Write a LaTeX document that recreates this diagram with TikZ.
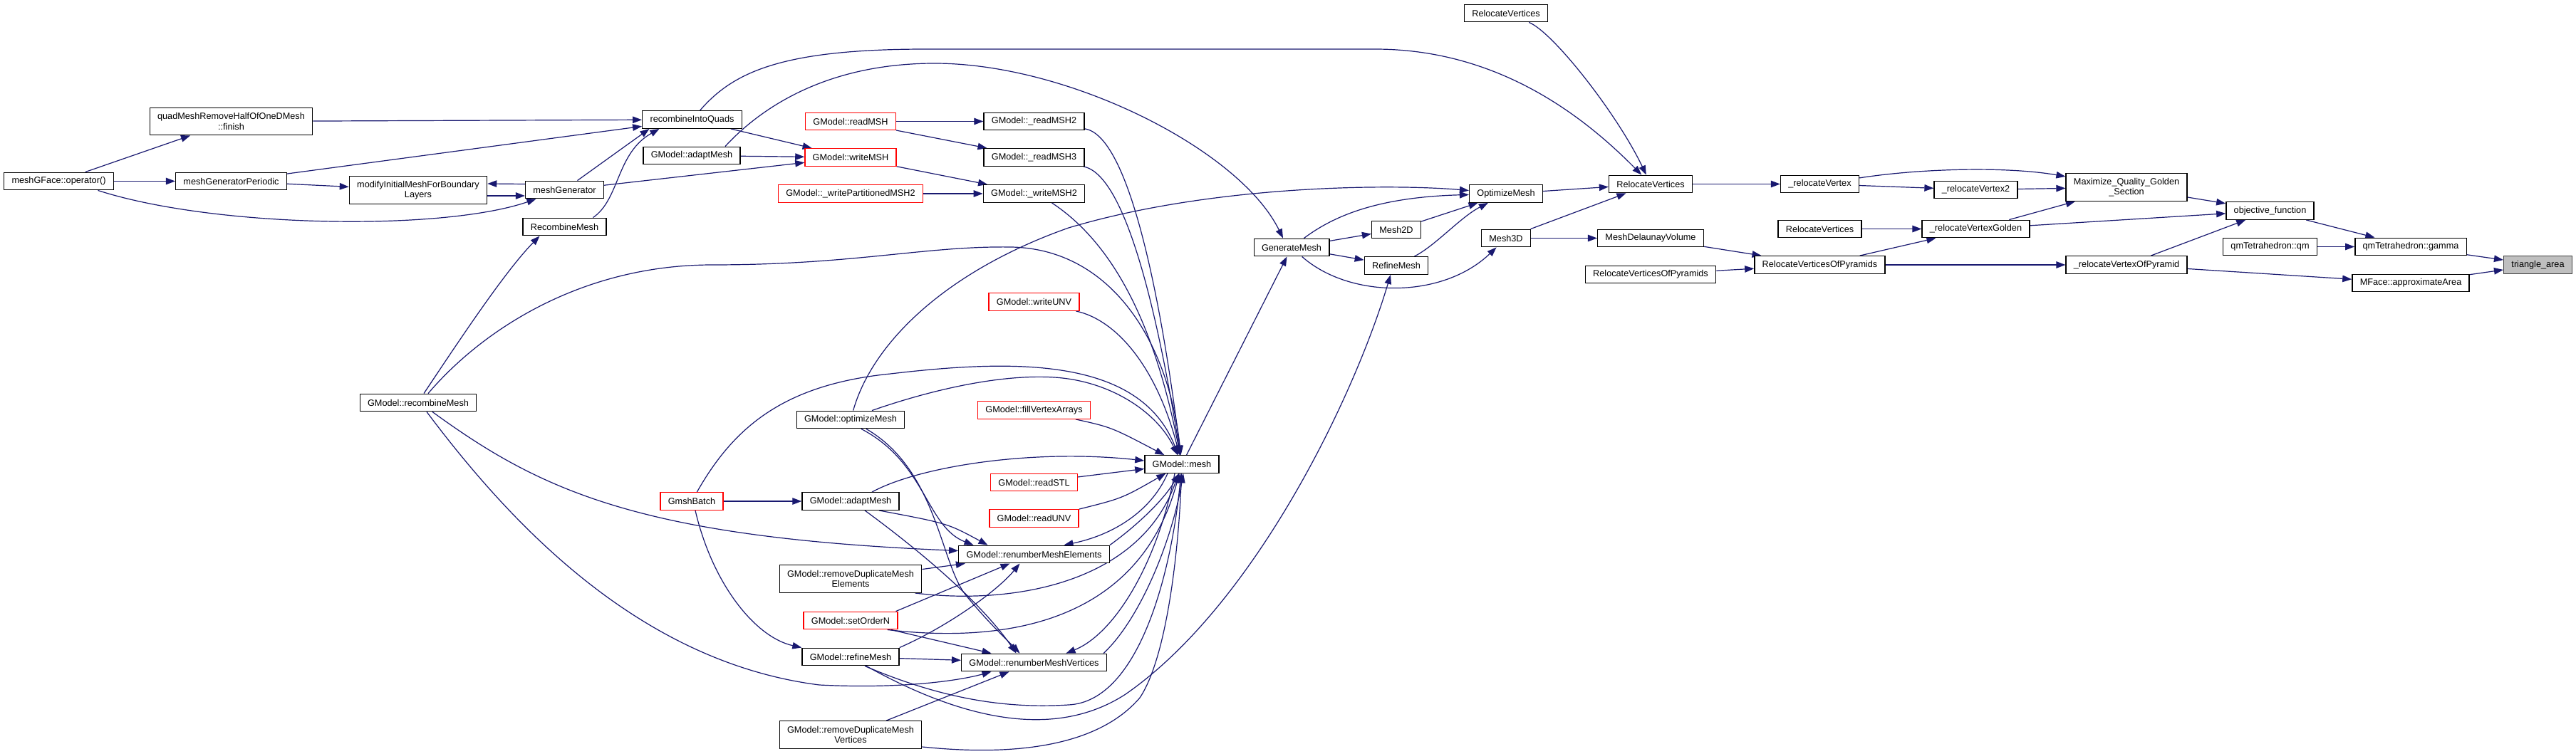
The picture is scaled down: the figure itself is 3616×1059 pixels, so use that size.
\documentclass[tikz,border=0pt]{standalone}
\usepackage{fontspec}
\setmainfont{Liberation Sans}
\usetikzlibrary{arrows.meta}
\definecolor{edgeblue}{HTML}{191970}
\definecolor{rootgray}{HTML}{BFBFBF}
\pgfdeclarelayer{background}
\pgfsetlayers{background,main}
\begin{document}
\begin{tikzpicture}[x=1pt,y=-1pt,
  nd/.style={draw=black, line width=1.4pt, fill=white, minimum height=24.5pt,
    inner xsep=10.8pt, inner ysep=0pt, align=center,
    font=\fontsize{12.7}{14.5}\selectfont},
  rd/.style={nd, draw=red},
  two/.style={minimum height=38.5pt},
  edg/.style={draw=edgeblue, line width=1.2pt, -{Triangle[length=13pt,width=9.5pt]}}
]
\path[use as bounding box] (0,0) rectangle (3616,1059);

% ---------- nodes ----------
\node[nd] (mgf) at (82.5,254.5) {meshGFace::operator()};
\node[nd,two] (qfin) at (324.5,170.5) {quadMeshRemoveHalfOfOneDMesh\\::finish};
\node[nd] (mgp) at (324.5,254.5) {meshGeneratorPeriodic};
\node[nd,two] (modi) at (587,267) {modifyInitialMeshForBoundary\\Layers};
\node[nd] (rcm) at (587,565.5) {GModel::recombineMesh};
\node[nd] (mgen) at (792.5,266.5) {meshGenerator};
\node[nd] (recM) at (792.5,318.5) {RecombineMesh};
\node[nd] (riq) at (971.5,168) {recombineIntoQuads};
\node[nd] (adaptT) at (971,218.5) {GModel::adaptMesh};
\node[rd] (gb) at (971,704) {GmshBatch};
\node[rd] (rmsh) at (1194,170.5) {GModel::readMSH};
\node[rd] (wmsh) at (1194,221) {GModel::writeMSH};
\node[rd] (wpart) at (1194,272) {GModel::\_writePartitionedMSH2};
\node[nd] (optMG) at (1194,589.5) {GModel::optimizeMesh};
\node[nd] (adaptL) at (1194,704) {GModel::adaptMesh};
\node[nd,two] (rdE) at (1194,813) {GModel::removeDuplicateMesh\\Elements};
\node[rd] (son) at (1194,871.5) {GModel::setOrderN};
\node[nd] (refG) at (1194,922.5) {GModel::refineMesh};
\node[nd,two] (rdV) at (1194,1032) {GModel::removeDuplicateMesh\\Vertices};
\node[nd] (rmsh2) at (1451.5,170.5) {GModel::\_readMSH2};
\node[nd] (rmsh3) at (1451.5,221) {GModel::\_readMSH3};
\node[nd] (wmsh2) at (1451.5,272) {GModel::\_writeMSH2};
\node[rd] (wunv) at (1451.5,424) {GModel::writeUNV};
\node[rd] (fva) at (1451.5,576) {GModel::fillVertexArrays};
\node[rd] (rstl) at (1451.5,677.5) {GModel::readSTL};
\node[rd] (runv) at (1451.5,728) {GModel::readUNV};
\node[nd] (renE) at (1451.5,778.5) {GModel::renumberMeshElements};
\node[nd] (renV) at (1451.5,930.5) {GModel::renumberMeshVertices};
\node[nd] (gmesh) at (1659,652) {GModel::mesh};
\node[nd] (genM) at (1813,347.5) {GenerateMesh};
\node[nd] (mesh2d) at (1960,322.5) {Mesh2D};
\node[nd] (refineM) at (1960,373) {RefineMesh};
\node[nd] (relocA) at (2114,18.5) {RelocateVertices};
\node[nd] (optM) at (2114,272) {OptimizeMesh};
\node[nd] (mesh3d) at (2114,334.5) {Mesh3D};
\node[nd] (relocB) at (2317,258.5) {RelocateVertices};
\node[nd] (delaunay) at (2317,334.5) {MeshDelaunayVolume};
\node[nd] (rvopL) at (2317,385.5) {RelocateVerticesOfPyramids};
\node[nd] (rv) at (2554.5,258.5) {\_relocateVertex};
\node[nd] (relocC) at (2554.5,321.5) {RelocateVertices};
\node[nd] (rvopR) at (2554.5,372) {RelocateVerticesOfPyramids};
\node[nd] (rv2) at (2773.5,266.5) {\_relocateVertex2};
\node[nd] (rvGold) at (2773.5,321.5) {\_relocateVertexGolden};
\node[nd,two] (maxq) at (2985,263) {Maximize\_Quality\_Golden\\\_Section};
\node[nd] (rvPyr) at (2985,372) {\_relocateVertexOfPyramid};
\node[nd] (objf) at (3186.5,296) {objective\_function};
\node[nd] (qm) at (3186.5,346.5) {qmTetrahedron::qm};
\node[nd] (gam) at (3384,346.5) {qmTetrahedron::gamma};
\node[nd] (approx) at (3384,397.5) {MFace::approximateArea};
\node[nd,fill=rootgray,draw=black!75] (tri) at (3562.5,372) {triangle\_area};

% ---------- edges ----------
\begin{pgfonlayer}{background}
\fill[white] (0,0) rectangle (3616,1059);

% right part
\draw[edg] (gam) -- (tri);
\draw[edg] (approx) -- (tri);
\draw[edg] (objf) -- (gam);
\draw[edg] (qm) -- (gam);
\draw[edg] (rvPyr) -- (approx);
\draw[edg] (maxq) -- (objf);
\draw[edg] (rvGold) -- (objf);
\draw[edg] (rvPyr) -- (objf);
\draw[edg] (rv) .. controls (2700,236) and (2820,234) .. (maxq);
\draw[edg] (rv2) -- (maxq);
\draw[edg] (rvGold) -- (maxq);
\draw[edg] (rv) -- (rv2);
\draw[edg] (relocC) -- (rvGold);
\draw[edg] (rvopR) -- (rvGold);
\draw[edg] (rvopR) -- (rvPyr);
\draw[edg] (relocB) -- (rv);
\draw[edg] (delaunay) -- (rvopR);
\draw[edg] (rvopL) -- (rvopR);
\draw[edg] (relocA) .. controls (2180,45) and (2270,160) .. (relocB);
\draw[edg] (optM) -- (relocB);
\draw[edg] (mesh3d) -- (relocB);
\draw[edg] (riq) .. controls (1030,100) and (1100,69) .. (1300,69) -- (1930,69) .. controls (2100,69) and (2220,160) .. (relocB);
\draw[edg] (mesh3d) -- (delaunay);
\draw[edg] (mesh2d) -- (optM);
\draw[edg] (refineM) .. controls (2015,345) and (2050,305) .. (optM);
\draw[edg] (genM) .. controls (1870,305) and (1930,277) .. (optM);
\draw[edg] (optMG) .. controls (1225,480) and (1330,380) .. (1500,320) .. controls (1700,260) and (1950,258) .. (optM);
\draw[edg] ([xshift=47pt]adaptT.north) .. controls (1060,160) and (1150,89) .. (1312,89) .. controls (1500,89) and (1740,210) .. ([xshift=-12pt]genM.north);
\draw[edg] (gmesh) -- (genM);
\draw[edg] ([xshift=22pt]refG.south) .. controls (1350,1010) and (1480,1040) .. (1580,975) .. controls (1760,850) and (1900,560) .. ([xshift=-8pt]refineM.south);
\draw[edg] (genM) -- (mesh2d);
\draw[edg] (genM) -- (refineM);
\draw[edg] (genM) .. controls (1895,420) and (2025,420) .. (mesh3d);

% left part
\draw[edg] (mgf) -- (qfin);
\draw[edg] (mgf) -- (mgp);
\draw[edg] ([xshift=55pt]mgf.south) .. controls (300,320) and (620,325) .. ([xshift=-40pt]mgen.south);
\draw[edg] (qfin) -- (riq);
\draw[edg] (mgp) -- (riq);
\draw[edg] (mgp) -- (modi);
\draw[edg] ([yshift=-8pt]modi.east) -- ([yshift=-8.5pt]mgen.west);
\draw[edg] ([yshift=8pt]mgen.west) -- ([yshift=9pt]modi.east);
\draw[edg] (mgen) -- ([xshift=-60pt]riq.south);
\draw[edg] ([xshift=40pt]recM.north) .. controls (870,280) and (865,215) .. ([xshift=-46pt]riq.south);
\draw[edg] (riq) -- (wmsh);
\draw[edg] (mgen) -- (wmsh);
\draw[edg] (adaptT) -- (wmsh);
\draw[edg] (rmsh) -- (rmsh2);
\draw[edg] (rmsh) -- (rmsh3);
\draw[edg] (wmsh) -- (wmsh2);
\draw[edg] (wpart) -- (wmsh2);

% into GModel::mesh
\draw[edg] (rmsh2) .. controls (1585,190) and (1630,420) .. (gmesh);
\draw[edg] (rmsh3) .. controls (1580,245) and (1625,440) .. (gmesh);
\draw[edg] ([xshift=25pt]wmsh2.south) .. controls (1560,340) and (1620,450) .. (gmesh);
\draw[edg] (wunv) .. controls (1570,450) and (1625,520) .. (gmesh);
\draw[edg] (fva) .. controls (1560,600) .. (gmesh);
\draw[edg] (rstl) -- (gmesh);
\draw[edg] (runv.north east) .. controls (1575,700) .. (gmesh);
\draw[edg] ([xshift=-20pt]gmesh.south) .. controls (1615,720) and (1560,752) .. ([xshift=42pt]renE.north);
\draw[edg] (renE.north east) .. controls (1600,735) and (1635,700) .. ([xshift=-4pt]gmesh.south);
\draw[edg] ([xshift=-10pt]gmesh.south) .. controls (1625,790) and (1565,890) .. ([xshift=45pt]renV.north);
\draw[edg] ([xshift=-5pt]renV.north east) .. controls (1600,870) and (1645,760) .. ([xshift=2pt]gmesh.south);
\draw[edg] (rdE) -- (renE);
\draw[edg] ([xshift=-10pt]rdE.south east) .. controls (1420,850) and (1600,820) .. (gmesh);
\draw[edg] ([xshift=-3pt]son.north east) -- ([xshift=-34pt]renE.south);
\draw[edg] ([xshift=-10pt]son.south east) -- ([xshift=-60pt]renV.north);
\draw[edg] ([xshift=-15pt]son.south east) .. controls (1420,905) and (1600,870) .. (gmesh);
\draw[edg] (refG.north east) .. controls (1330,880) and (1400,830) .. ([xshift=-20pt]renE.south);
\draw[edg] (refG) -- (renV);
\draw[edg] ([xshift=20pt]refG.south) .. controls (1330,985) and (1420,995) .. (1500,990) .. controls (1600,985) and (1645,800) .. (gmesh);
\draw[edg] (rdV) -- ([xshift=-35pt]renV.south);
\draw[edg] ([yshift=3pt]rdV.south east) .. controls (1420,1062) and (1540,1050) .. (1600,980) .. controls (1640,920) and (1655,760) .. (gmesh);
\draw[edg] (gb) -- (adaptL);
\draw[edg] ([xshift=5pt]gb.south) .. controls (1000,820) and (1060,895) .. (refG.north west);
\draw[edg] (gb) .. controls (1030,600) and (1100,540) .. (1250,525) .. controls (1420,505) and (1600,500) .. (gmesh);
\draw[edg] ([xshift=30pt]optMG.north) .. controls (1300,550) and (1400,525) .. (1480,530) .. controls (1560,535) and (1625,580) .. (gmesh);
\draw[edg] ([xshift=15pt]optMG.south) .. controls (1300,650) and (1300,740) .. ([xshift=-85pt]renE.north);
\draw[edg] ([xshift=22pt]optMG.south) .. controls (1315,660) and (1320,790) .. (1355,835) .. controls (1385,872) and (1410,895) .. ([xshift=-20pt]renV.north);
\draw[edg] ([xshift=30pt]adaptL.north) .. controls (1290,655) and (1450,630) .. ([yshift=5pt]gmesh.west);
\draw[edg] ([xshift=40pt]adaptL.south) .. controls (1330,735) .. ([xshift=-65pt]renE.north);
\draw[edg] ([xshift=20pt]adaptL.south) .. controls (1300,780) and (1380,850) .. ([xshift=-25pt]renV.north);
\draw[edg] ([xshift=8pt]rcm.north) .. controls (650,470) and (710,380) .. ([xshift=-35pt]recM.south);
\draw[edg] ([xshift=14pt]rcm.north) .. controls (680,460) and (820,372) .. (1000,372) .. controls (1200,372) and (1300,345) .. (1420,347) .. controls (1560,350) and (1640,480) .. (gmesh);
\draw[edg] ([xshift=20pt]rcm.south) .. controls (760,690) and (900,755) .. ([yshift=5pt]renE.west);
\draw[edg] ([xshift=12pt]rcm.south) .. controls (720,740) and (900,930) .. (1150,962) .. controls (1270,968) and (1350,955) .. ([xshift=-60pt]renV.south);
\end{pgfonlayer}
\end{tikzpicture}
\end{document}
